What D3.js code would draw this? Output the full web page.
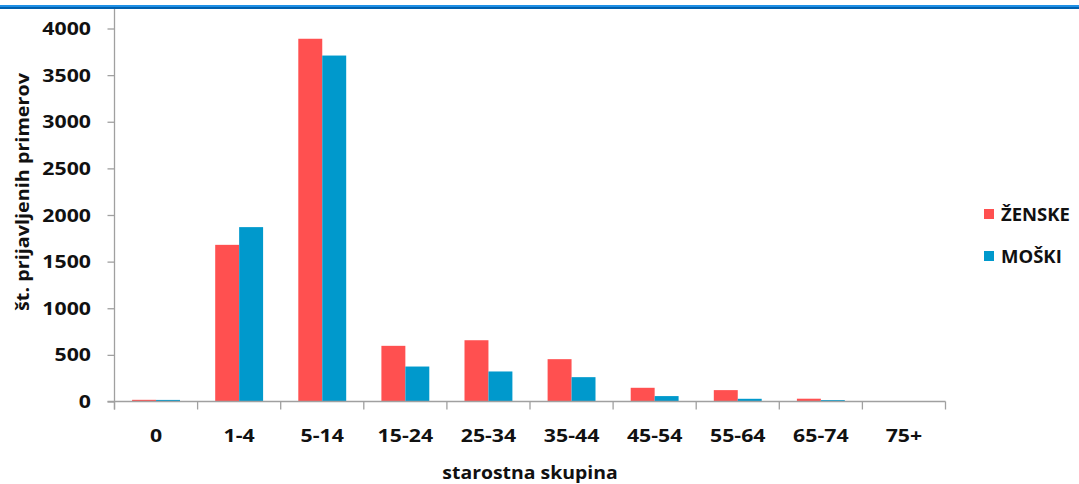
<!DOCTYPE html>
<html><head><meta charset="utf-8">
<script src="https://cdn.jsdelivr.net/npm/d3@7"></script>
<style>
html,body{margin:0;padding:0;background:#fff;}
svg text{font-family:"Open Sans","Noto Sans",sans-serif;font-weight:bold;fill:#111;}
</style></head>
<body>
<svg id="c" width="1079" height="484"></svg>
<script>
const categories = ["0","1-4","5-14","15-24","25-34","35-44","45-54","55-64","65-74","75+"];
const zenske = [18, 1680, 3890, 597, 657, 454, 147, 122, 30, 0];
const moski  = [17, 1870, 3710, 375, 322, 261, 58, 29, 15, 0];
const seriesNames = ["ŽENSKE","MOŠKI"];
const seriesColors = ["#FF5050","#0099CC"];
const yTicks = [0,500,1000,1500,2000,2500,3000,3500,4000];
const xTitle = "starostna skupina";
const yTitle = "št. prijavljenih primerov";

const svg = d3.select("#c");
svg.append("rect").attr("x",0).attr("y",5).attr("width",1079).attr("height",2).attr("fill","#1E90E6");
svg.append("rect").attr("x",0).attr("y",7).attr("width",1079).attr("height",2).attr("fill","#0060AE");

const left=114.5, right=945.5, bottom=401.5, top4000=28.5;
const x = d3.scaleBand().domain(categories).range([left,right]).paddingInner(0).paddingOuter(0);
const y = d3.scaleLinear().domain([0,4000]).range([bottom,top4000]);
const inner = d3.scaleBand().domain([0,1]).range([0,x.bandwidth()]).paddingInner(0).paddingOuter(0.735);

const data = categories.map((c,i)=>({c, v:[zenske[i],moski[i]]}));
const g = svg.append("g");
data.forEach(d=>{
  d.v.forEach((v,s)=>{
    if(v<=0) return;
    g.append("rect")
      .attr("x", x(d.c)+inner(s))
      .attr("y", y(v))
      .attr("width", inner.bandwidth())
      .attr("height", bottom - y(v))
      .attr("fill", seriesColors[s]);
  });
});

const axisColor="#A0A0A0";
const FS = "18.5px";
function label(parent, tx, ty, txt, anchor, sx, rot){
  const t = parent.append("g").attr("transform",`translate(${tx},${ty})${rot?` rotate(${rot})`:""} scale(${sx},1)`)
    .append("text").attr("text-anchor",anchor).style("font-size",FS).text(txt);
  return t;
}

// y ticks
const yAxis = svg.append("g").attr("transform",`translate(${left},0)`)
  .call(d3.axisLeft(y).tickValues(yTicks).tickSize(7).tickFormat(""));
yAxis.select(".domain").remove();
yAxis.selectAll("line").attr("stroke",axisColor).attr("stroke-width",1.3);
yTicks.forEach(v=>{
  label(svg, 91, y(v)+6.6, d3.format("d")(v), "end", 1.15);
});
svg.append("line").attr("x1",left).attr("x2",left).attr("y1",9).attr("y2",bottom+8).attr("stroke",axisColor).attr("stroke-width",1.3);

// x axis
svg.append("line").attr("x1",left-7).attr("x2",right).attr("y1",bottom).attr("y2",bottom).attr("stroke",axisColor).attr("stroke-width",1.3);
const bounds = categories.map(c=>x(c)).concat([right]);
svg.selectAll(".xt").data(bounds).enter().append("line")
  .attr("x1",d=>d).attr("x2",d=>d).attr("y1",bottom).attr("y2",bottom+8).attr("stroke",axisColor).attr("stroke-width",1.3);
categories.forEach(c=>{
  label(svg, x(c)+x.bandwidth()/2, 441.5, c, "middle", 1.15);
});

label(svg, 530, 479, xTitle, "middle", 1.05);
label(svg, 29, 192, yTitle, "middle", 1.07, -90);

// legend
seriesNames.forEach((n,i)=>{
  const yy = 214 + i*42;
  svg.append("rect").attr("x",984).attr("y",yy-5).attr("width",10).attr("height",10).attr("fill",seriesColors[i]);
  label(svg, 1001, yy+6.6, n, "start", 1.0);
});
</script>
</body></html>
